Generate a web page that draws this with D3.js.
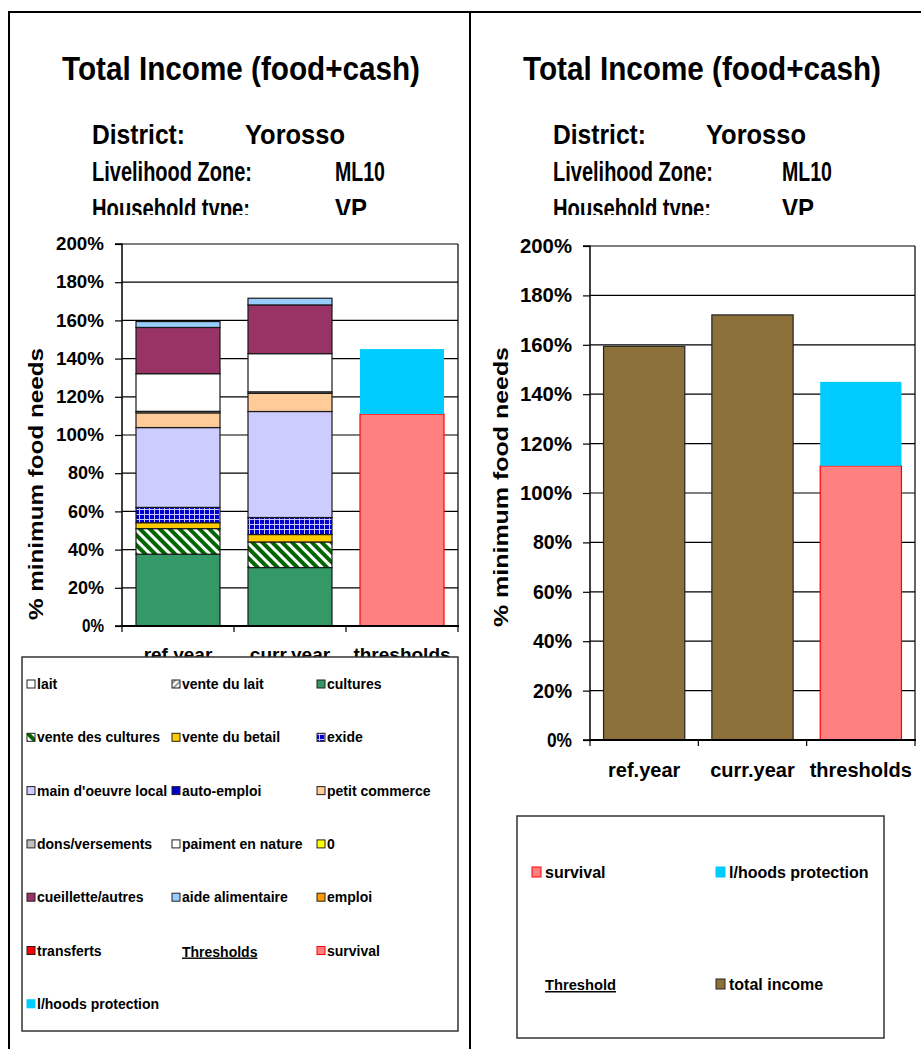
<!DOCTYPE html>
<html><head><meta charset="utf-8">
<script src="https://cdn.jsdelivr.net/npm/d3@7"></script>
<style>body{margin:0;background:#fff}svg{display:block}text{font-family:"Liberation Sans",Arial,sans-serif;font-weight:bold;fill:#000}</style>
</head><body>
<script>
// ---------- data ----------
const categories = ["ref.year", "curr.year", "thresholds"];
const incomeSources = ["lait","vente du lait","cultures","vente des cultures","vente du betail","exide","main d'oeuvre local","auto-emploi","petit commerce","dons/versements","paiment en nature","0","cueillette/autres","aide alimentaire","emploi","transferts"];
const refYearValues  = [0,0,37.6,13.4,3.1,8.0,41.8,0,7.7,0.8,19.7,0,24.2,3.1,0,0];
const currYearValues = [0,0,30.6,13.4,3.9,8.9,55.5,0,9.5,0.8,20.0,0,25.5,3.5,0,0];
const thresholdSeries = ["survival","l/hoods protection"];
const thresholdValues = [111, 34];
const totalIncomeValues = [159.4, 172.1];
const yTickValues = [0,20,40,60,80,100,120,140,160,180,200];
const yTickLabels = ["0%","20%","40%","60%","80%","100%","120%","140%","160%","180%","200%"];
const headerLabels = ["District:","Livelihood Zone:","Household type:"];
const headerValues = ["Yorosso","ML10","VP"];
const titleText = "Total Income (food+cash)";
const yAxisTitle = "% minimum food needs";

const sourceFills = ["#FFFFFF","url(#pVenteLait)","#339966","url(#pVenteCult)","#FFCC00","url(#pExide)","#CCCCFF","#0000CC","#FFCC99","#C0C0C0","#FFFFFF","#FFFF00","#993366","#99CCFF","#FF9900","#FF0000"];
const thresholdFills = ["#FF8080","#00CCFF"];
const thresholdStrokes = ["#FF0000","none"];
const totalFill = "#8C7039";

const W = 921, H = 1049;
const svg = d3.select("body").append("svg").attr("width", W).attr("height", H);
const defs = svg.append("defs");

// patterns
const p1 = defs.append("pattern").attr("id","pVenteCult").attr("patternUnits","userSpaceOnUse").attr("width",7).attr("height",7).attr("patternTransform","rotate(-45)");
p1.append("rect").attr("width",7).attr("height",7).attr("fill","#006600");
p1.append("rect").attr("width",3).attr("height",7).attr("fill","#FFFFFF");
const p2 = defs.append("pattern").attr("id","pExide").attr("patternUnits","userSpaceOnUse").attr("width",5).attr("height",5);
p2.append("rect").attr("width",5).attr("height",5).attr("fill","#0000CC");
p2.append("rect").attr("x",0).attr("y",4).attr("width",5).attr("height",1).attr("fill","#C8C8FF");
p2.append("rect").attr("x",4).attr("y",0).attr("width",1).attr("height",5).attr("fill","#C8C8FF");
const p3 = defs.append("pattern").attr("id","pVenteLait").attr("patternUnits","userSpaceOnUse").attr("width",4).attr("height",4).attr("patternTransform","rotate(45)");
p3.append("rect").attr("width",4).attr("height",4).attr("fill","#FFFFFF");
p3.append("rect").attr("width",2).attr("height",4).attr("fill","#A0A0A0");

defs.append("clipPath").attr("id","clipL").append("rect").attr("x",0).attr("y",0).attr("width",470).attr("height",215);
defs.append("clipPath").attr("id","clipR").append("rect").attr("x",470).attr("y",0).attr("width",451).attr("height",215);

function txt(g, x, y, s, size, opts = {}) {
  const t = g.append("text").attr("x", x).attr("y", y).attr("font-size", size).text(s);
  if (opts.anchor) t.attr("text-anchor", opts.anchor);
  if (opts.len) t.attr("textLength", opts.len).attr("lengthAdjust", "spacingAndGlyphs");
  if (opts.underline) t.attr("text-decoration", "underline");
  if (opts.transform) t.attr("transform", opts.transform);
  return t;
}

// panel borders
svg.append("line").attr("x1",9).attr("x2",921).attr("y1",12).attr("y2",12).attr("stroke","#000").attr("stroke-width",2);
svg.append("line").attr("x1",9).attr("x2",9).attr("y1",11).attr("y2",H).attr("stroke","#000").attr("stroke-width",2);
svg.append("line").attr("x1",470).attr("x2",470).attr("y1",11).attr("y2",H).attr("stroke","#000").attr("stroke-width",2);

// headers
function header(g, cx, xl, xv1, xv2, clip) {
  txt(g, cx, 80, titleText, 33, {anchor: "middle", len: 358});
  const hg = g.append("g").attr("clip-path", `url(#${clip})`);
  const ys = [144, 181, 218];
  const lens = [93, 160, 158];
  headerLabels.forEach((h, i) => txt(hg, xl, ys[i], h, 27, {len: lens[i]}));
  txt(hg, xv1, ys[0], headerValues[0], 27, {len: 100});
  txt(hg, xv2, ys[1], headerValues[1], 27, {len: 50});
  txt(hg, xv2, ys[2], headerValues[2], 27, {len: 32});
}
header(svg, 241, 92, 245, 335, "clipL");
header(svg, 702, 553, 706, 782, "clipR");

// ---------- axis helper ----------
function plot(x0, x1, yTop, yBot) {
  const y = d3.scaleLinear().domain([0, 200]).range([yBot, yTop]);
  const x = d3.scaleBand().domain(categories).range([x0, x1]).paddingInner(0.25).paddingOuter(0.125);
  const g = svg.append("g");
  g.selectAll(".grid").data(yTickValues.slice(1)).join("line")
    .attr("x1", x0).attr("x2", x1).attr("y1", d => y(d)).attr("y2", d => y(d))
    .attr("stroke", "#000").attr("stroke-width", 1.2);
  g.append("line").attr("x1", x1).attr("x2", x1).attr("y1", yTop).attr("y2", yBot).attr("stroke", "#000").attr("stroke-width", 1.2);
  return {x, y, g};
}
function stackCol(g, x, y, cat, vals, fills, strokes, sw) {
  let acc = 0;
  vals.forEach((v, i) => {
    if (v <= 0) { return; }
    g.append("rect").attr("x", x(cat)).attr("width", x.bandwidth())
      .attr("y", y(acc + v)).attr("height", y(acc) - y(acc + v))
      .attr("fill", fills[i]).attr("stroke", strokes ? strokes[i] : "#1a1a1a").attr("stroke-width", sw);
    acc += v;
  });
}
function styleAxis(gax, size, lens) {
  gax.selectAll(".tick line").attr("stroke", "#000").attr("stroke-width", 1.2);
  gax.selectAll(".tick text").attr("font-size", size).attr("font-family", '"Liberation Sans",Arial,sans-serif')
    .attr("font-weight", "bold").attr("fill", "#000").attr("lengthAdjust", "spacingAndGlyphs")
    .attr("textLength", d => d === 0 ? lens[0] : d < 100 ? lens[1] : lens[2]);
}

// ---------- LEFT chart ----------
const L = plot(122, 458, 244, 626);
stackCol(L.g, L.x, L.y, "ref.year", refYearValues, sourceFills, null, 1.2);
stackCol(L.g, L.x, L.y, "curr.year", currYearValues, sourceFills, null, 1.2);
stackCol(L.g, L.x, L.y, "thresholds", thresholdValues, thresholdFills, thresholdStrokes, 1.2);
const axL = d3.axisLeft(L.y).tickValues(yTickValues).tickFormat((d, i) => yTickLabels[i]).tickSize(7).tickPadding(11);
const gaxL = svg.append("g").attr("transform", "translate(122,0)").call(axL);
gaxL.select(".domain").attr("stroke", "#000").attr("stroke-width", 1.5).attr("d", "M-7,244H0V626H-7");
styleAxis(gaxL, 18, [22, 36, 48]);
const bxL = svg.append("g").attr("transform", "translate(0,626)");
bxL.append("line").attr("x1", 122).attr("x2", 459).attr("stroke", "#000").attr("stroke-width", 2);
[0,1,2,3].forEach(i => bxL.append("line").attr("x1", 122 + i * L.x.step()).attr("x2", 122 + i * L.x.step()).attr("y1", 0).attr("y2", 6).attr("stroke", "#000").attr("stroke-width", 1.2));
categories.forEach(c => txt(svg, L.x(c) + L.x.bandwidth() / 2, 661, c, 19, {anchor: "middle"}));
txt(svg, 0, 0, yAxisTitle, 21, {anchor: "middle", len: 272, transform: "translate(43,484) rotate(-90)"});

// left legend
svg.append("rect").attr("x", 22).attr("y", 657).attr("width", 436).attr("height", 374).attr("fill", "#fff").attr("stroke", "#333").attr("stroke-width", 1.5);
const legendItems = incomeSources.map((s, i) => ({name: s, fill: sourceFills[i], stroke: "#222"}))
  .concat([{name: "Thresholds", header: true}])
  .concat(thresholdSeries.map((s, i) => ({name: s, fill: thresholdFills[i], stroke: i === 0 ? "#FF0000" : "#00CCFF"})));
const colX = [27, 172, 317];
legendItems.forEach((d, i) => {
  const cx = colX[i % 3], cy = 684 + Math.floor(i / 3) * 53.3;
  if (d.header) {
    txt(svg, cx + 10, cy + 6, d.name, 14, {underline: true});
  } else {
    svg.append("rect").attr("x", cx).attr("y", cy - 4).attr("width", 8).attr("height", 8).attr("fill", d.fill).attr("stroke", d.stroke).attr("stroke-width", 1);
    txt(svg, cx + 10, cy + 5, d.name, 14);
  }
});

// ---------- RIGHT chart ----------
const R = plot(590, 915, 246, 740);
["ref.year", "curr.year"].forEach((c, i) => {
  R.g.append("rect").attr("x", R.x(c)).attr("width", R.x.bandwidth())
    .attr("y", R.y(totalIncomeValues[i])).attr("height", R.y(0) - R.y(totalIncomeValues[i]))
    .attr("fill", totalFill).attr("stroke", "#222").attr("stroke-width", 1.2);
});
stackCol(R.g, R.x, R.y, "thresholds", thresholdValues, thresholdFills, thresholdStrokes, 1.2);
const axR = d3.axisLeft(R.y).tickValues(yTickValues).tickFormat((d, i) => yTickLabels[i]).tickSize(7).tickPadding(11);
const gaxR = svg.append("g").attr("transform", "translate(590,0)").call(axR);
gaxR.select(".domain").attr("stroke", "#000").attr("stroke-width", 1.5).attr("d", "M-7,246H0V740H-7");
styleAxis(gaxR, 20, [25, 39, 52]);
const bxR = svg.append("g").attr("transform", "translate(0,740)");
bxR.append("line").attr("x1", 590).attr("x2", 916).attr("stroke", "#000").attr("stroke-width", 2);
[0,1,2,3].forEach(i => bxR.append("line").attr("x1", 590 + i * R.x.step()).attr("x2", 590 + i * R.x.step()).attr("y1", 0).attr("y2", 6).attr("stroke", "#000").attr("stroke-width", 1.2));
categories.forEach(c => txt(svg, R.x(c) + R.x.bandwidth() / 2, 777, c, 20, {anchor: "middle"}));
txt(svg, 0, 0, yAxisTitle, 21, {anchor: "middle", len: 280, transform: "translate(508,487) rotate(-90)"});

// right legend
svg.append("rect").attr("x", 517).attr("y", 816).attr("width", 367).attr("height", 222).attr("fill", "#fff").attr("stroke", "#333").attr("stroke-width", 1.5);
const rLegend = [
  {name: thresholdSeries[0], fill: thresholdFills[0], stroke: "#FF0000", x: 532, y: 872},
  {name: thresholdSeries[1], fill: thresholdFills[1], stroke: "#00CCFF", x: 716, y: 872},
  {name: "Threshold", header: true, x: 535, y: 984},
  {name: "total income", fill: totalFill, stroke: "#222", x: 716, y: 984}
];
rLegend.forEach(d => {
  if (d.header) {
    txt(svg, d.x + 10, d.y + 6, d.name, 15, {underline: true, len: 71});
  } else {
    svg.append("rect").attr("x", d.x).attr("y", d.y - 5).attr("width", 9).attr("height", 10).attr("fill", d.fill).attr("stroke", d.stroke).attr("stroke-width", 1);
    txt(svg, d.x + 13, d.y + 6, d.name, 16);
  }
});
</script>
</body></html>
